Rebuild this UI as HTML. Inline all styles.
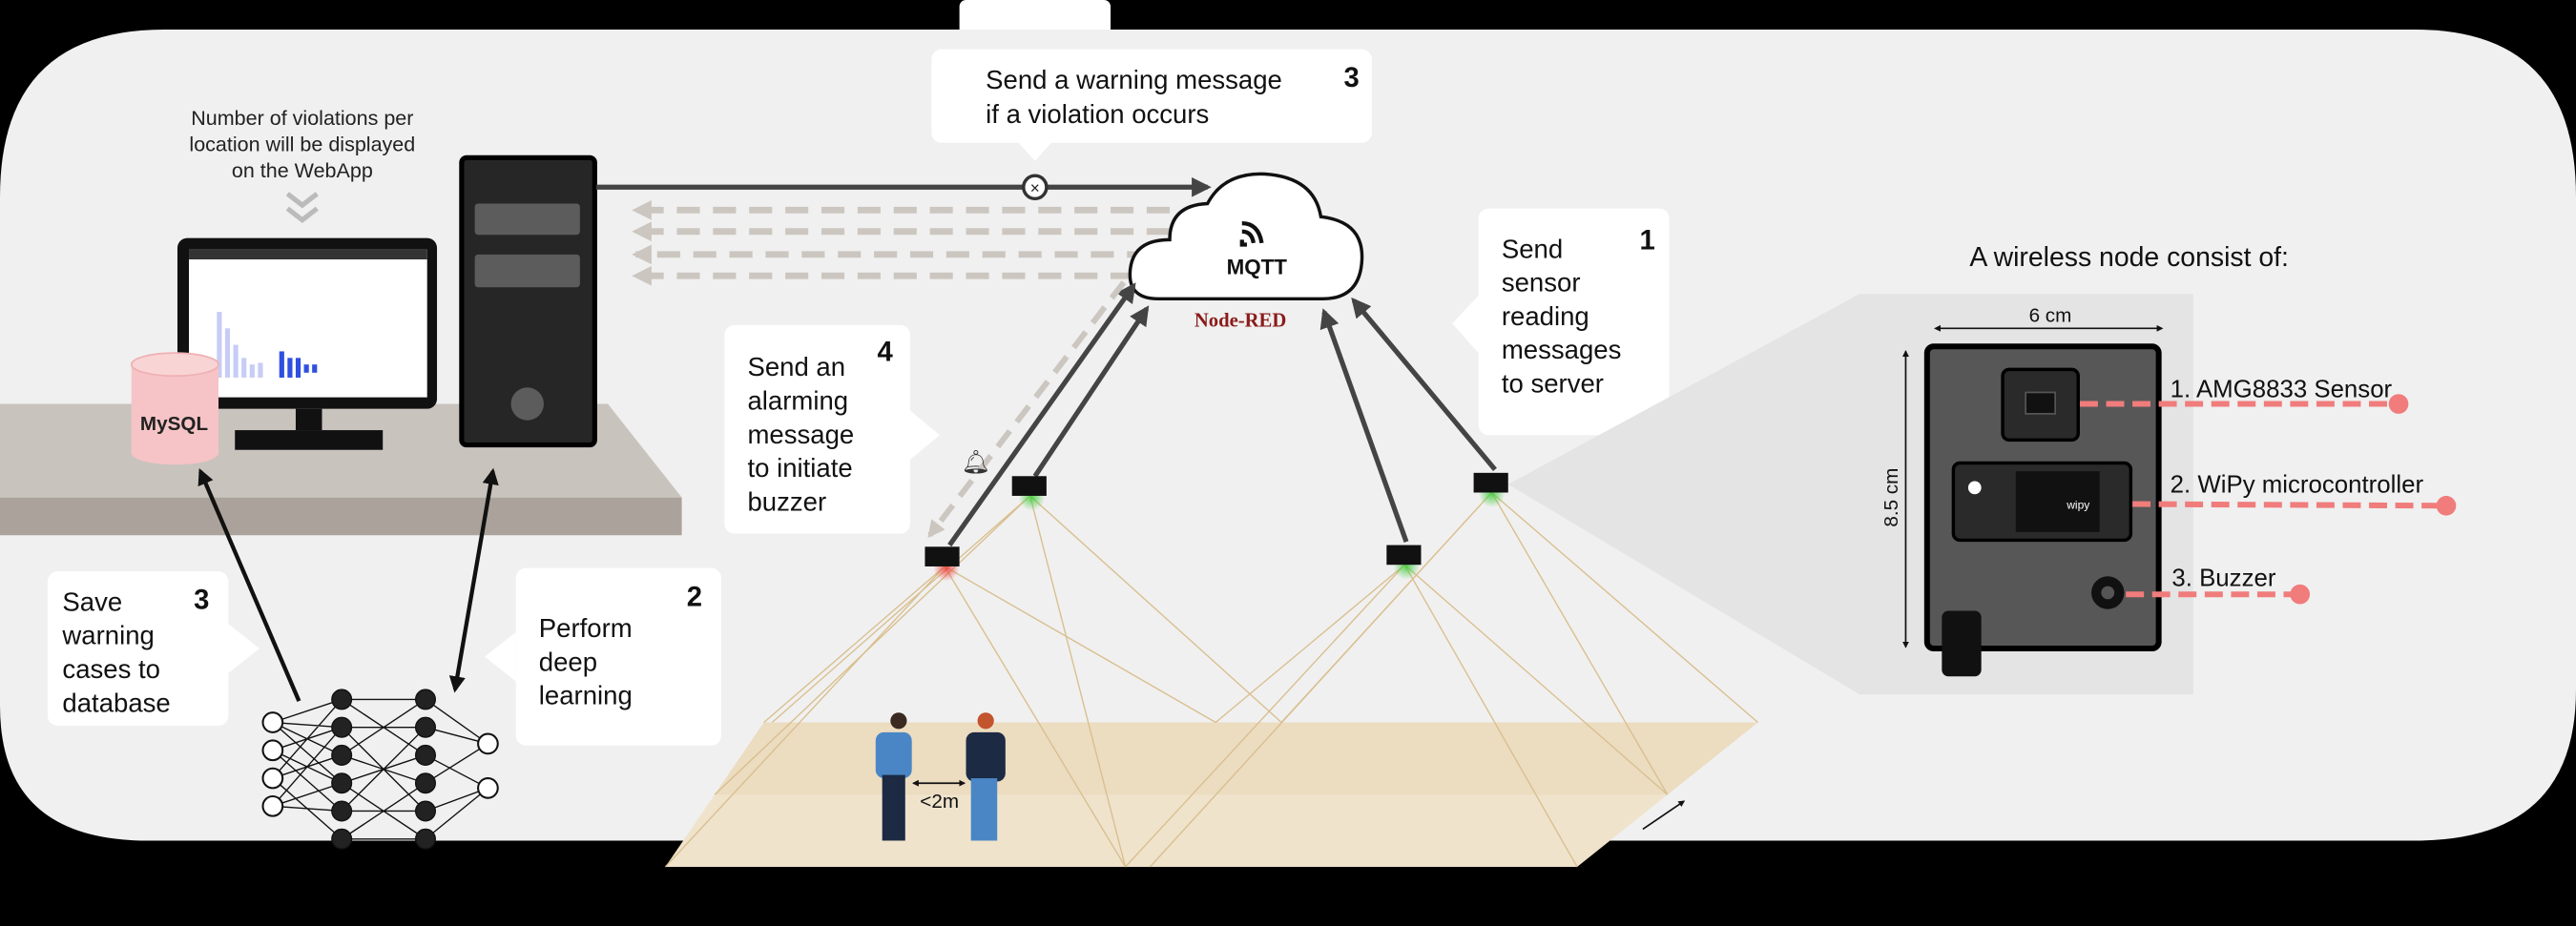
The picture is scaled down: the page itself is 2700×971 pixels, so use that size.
<!DOCTYPE html>
<html><head><meta charset="utf-8"><style>
html,body{margin:0;padding:0;background:#000;}
svg{display:block;font-family:"Liberation Sans",sans-serif;}
</style></head><body>
<svg width="2700" height="971" viewBox="0 0 1568 564" preserveAspectRatio="none">
<defs>
<marker id="ah" viewBox="0 0 10 10" refX="8" refY="5" markerWidth="4" markerHeight="4" orient="auto-start-reverse"><path d="M0,0L10,5L0,10z" fill="#444"/></marker>
<marker id="ahk" viewBox="0 0 10 10" refX="8" refY="5" markerWidth="4" markerHeight="4" orient="auto-start-reverse"><path d="M0,0L10,5L0,10z" fill="#111"/></marker>
<marker id="ahg" viewBox="0 0 10 10" refX="8" refY="5" markerWidth="3" markerHeight="3" orient="auto-start-reverse"><path d="M0,0L10,5L0,10z" fill="#ccc6c0"/></marker>
<radialGradient id="gg"><stop offset="0" stop-color="#3c3" stop-opacity=".8"/><stop offset="1" stop-color="#3c3" stop-opacity="0"/></radialGradient>
<radialGradient id="rg"><stop offset="0" stop-color="#e33" stop-opacity=".8"/><stop offset="1" stop-color="#e33" stop-opacity="0"/></radialGradient>
</defs>
<rect x="0" y="0" width="1568" height="564" fill="#000"/>
<rect x="584" y="0" width="92" height="24" rx="4" fill="#fff"/>
<path d="M100,18 H1470 Q1568,18 1568,120 V420 Q1568,512 1470,512 H90 Q0,512 0,430 V120 Q0,18 100,18Z" fill="#f0f0f0"/>

<!-- desk -->
<g>
<polygon points="0,246 370,246 415,303 0,303" fill="#c9c3be"/>
<rect x="0" y="303" width="415" height="23" fill="#aba39b"/>
</g>
<text x="184" y="76" font-size="12.5" text-anchor="middle" fill="#222"><tspan x="184">Number of violations per</tspan><tspan x="184" dy="16">location will be displayed</tspan><tspan x="184" dy="16">on the WebApp</tspan></text>
<path d="M175,118 L184,125 L193,118 M175,127 L184,134 L193,127" stroke="#bbb" stroke-width="3" fill="none"/>
<!-- monitor -->
<g>
<rect x="108" y="145" width="158" height="104" rx="6" fill="#111"/>
<rect x="115" y="152" width="145" height="90" fill="#fff"/>
<rect x="115" y="152" width="145" height="6" fill="#333"/>
<rect x="180" y="249" width="16" height="13" fill="#111"/>
<rect x="143" y="262" width="90" height="12" fill="#111"/>
<g fill="#c8ccf5"><rect x="132" y="190" width="3" height="40"/><rect x="137" y="200" width="3" height="30"/><rect x="142" y="210" width="3" height="20"/><rect x="147" y="218" width="3" height="12"/><rect x="152" y="222" width="3" height="8"/><rect x="157" y="221" width="3" height="9"/></g>
<g fill="#2e4fe0"><rect x="170" y="214" width="3" height="16"/><rect x="175" y="218" width="3" height="12"/><rect x="180" y="218" width="3" height="12"/><rect x="185" y="222" width="3" height="5"/><rect x="190" y="222" width="3" height="5"/></g>
</g>
<g>
<path d="M80,222 V276 A26.5,7 0 0 0 133,276 V222Z" fill="#f6c4c6"/>
<ellipse cx="106.5" cy="222" rx="26.5" ry="7" fill="#f9d4d5" stroke="#f0b0b3"/>
<text x="106" y="262" font-size="12" font-weight="bold" text-anchor="middle" fill="#222">MySQL</text>
</g>
<g>
<rect x="281" y="96" width="81" height="175" rx="3" fill="#262626" stroke="#000" stroke-width="3"/>
<rect x="289" y="124" width="64" height="19" rx="2" fill="#5c5c5c"/>
<rect x="289" y="155" width="64" height="20" rx="2" fill="#5c5c5c"/>
<circle cx="321" cy="246" r="10" fill="#5c5c5c"/>
</g>

<!-- top arrow & dashed -->
<line x1="363" y1="114" x2="735" y2="114" stroke="#444" stroke-width="3" marker-end="url(#ah)"/>
<circle cx="630" cy="114" r="7" fill="#fff" stroke="#333" stroke-width="2"/>
<text x="630" y="118" font-size="10" text-anchor="middle" fill="#222">×</text>
<g stroke="#ccc6c0" stroke-width="4" stroke-dasharray="14 8" fill="none">
<line x1="712" y1="128" x2="387" y2="128" marker-end="url(#ahg)"/>
<line x1="712" y1="141" x2="387" y2="141" marker-end="url(#ahg)"/>
<line x1="700" y1="155" x2="387" y2="155" marker-end="url(#ahg)"/>
<line x1="690" y1="168" x2="387" y2="168" marker-end="url(#ahg)"/>
</g>
<!-- bubble 3 top -->
<g>
<rect x="567" y="30" width="268" height="57" rx="6" fill="#fff"/>
<polygon points="620,87 640,87 630,98" fill="#fff"/>
<text x="600" y="54" font-size="16" fill="#111"><tspan x="600">Send a warning message</tspan><tspan x="600" dy="21">if a violation occurs</tspan></text>
<text x="818" y="53" font-size="17" font-weight="bold" fill="#111">3</text>
</g>
<!-- cloud -->
<g>
<path d="M705,182 Q686,182 688,164 Q690,146 712,146 Q712,125 735,124 Q745,105 770,106 Q800,108 804,132 Q830,135 829,158 Q828,182 805,182Z" fill="#fff" stroke="#111" stroke-width="2"/>
<text x="765" y="167" font-size="13" font-weight="bold" text-anchor="middle" fill="#111">MQTT</text>
<path d="M756,136 q10,0 12,12 M756,141 q6,0 7,7 M756,146 v3 h3" stroke="#111" stroke-width="2.5" fill="none"/>
<text x="755" y="199" font-size="12" font-weight="bold" font-family="Liberation Serif,serif" text-anchor="middle" fill="#8b1a1a">Node-RED</text>
</g>
<!-- floor -->
<g>
<polygon points="465,440 1070,440 960,528 405,528" fill="#efe3cc"/>
<polygon points="465,440 1070,440 1015,484 435,484" fill="#ecdcc0"/>
<line x1="1000" y1="505" x2="1025" y2="488" stroke="#111" marker-end="url(#ahk)"/>
</g>
<g stroke="#d9bf8f" stroke-width="0.8" fill="none">
<path d="M575,345 L405,528 M575,345 L465,440 M575,345 L685,528 M575,345 L740,440"/>
<path d="M627,302 L435,484 M627,302 L470,440 M627,302 L685,528 M627,302 L780,440"/>
<path d="M855,344 L685,528 M855,344 L740,440 M855,344 L960,528 M855,344 L1015,484"/>
<path d="M908,300 L700,528 M908,300 L780,440 M908,300 L1015,484 M908,300 L1070,440"/>
</g>
<!-- sensor links -->
<g stroke="#444" stroke-width="3" fill="none">
<line x1="578" y1="332" x2="690" y2="174" marker-end="url(#ah)"/>
<line x1="630" y1="290" x2="698" y2="188" marker-end="url(#ah)"/>
<line x1="856" y1="330" x2="806" y2="190" marker-end="url(#ah)"/>
<line x1="910" y1="286" x2="824" y2="183" marker-end="url(#ah)"/>
</g>
<line x1="684" y1="172" x2="566" y2="326" stroke="#ccc6c0" stroke-width="3.5" stroke-dasharray="12 7" marker-end="url(#ahg)"/>
<text x="585" y="286" font-size="14" fill="#333">🔔︎</text>
<g>
<circle cx="576" cy="346" r="8" fill="url(#rg)"/><rect x="563" y="333" width="21" height="12" fill="#111"/>
<circle cx="628" cy="303" r="8" fill="url(#gg)"/><rect x="616" y="290" width="21" height="12" fill="#111"/>
<circle cx="856" cy="345" r="8" fill="url(#gg)"/><rect x="844" y="332" width="21" height="12" fill="#111"/>
<circle cx="908" cy="301" r="8" fill="url(#gg)"/><rect x="897" y="288" width="21" height="12" fill="#111"/>
</g>
<!-- people -->
<g>
<circle cx="547" cy="439" r="5" fill="#3a2a20"/><rect x="533" y="446" width="22" height="28" rx="5" fill="#4a86c5"/><rect x="537" y="472" width="14" height="40" fill="#1c2a44"/>
<circle cx="600" cy="439" r="5" fill="#c2542e"/><rect x="588" y="446" width="24" height="30" rx="5" fill="#1c2a44"/><rect x="591" y="474" width="16" height="38" fill="#4a86c5"/>
<line x1="556" y1="477" x2="587" y2="477" stroke="#111" marker-end="url(#ahk)" marker-start="url(#ahk)"/>
<text x="560" y="492" font-size="12" fill="#111">&lt;2m</text>
</g>
<!-- other bubbles -->
<g>
<rect x="441" y="198" width="113" height="127" rx="6" fill="#fff"/>
<polygon points="554,250 554,280 572,265" fill="#fff"/>
<text x="455" y="229" font-size="16" fill="#111"><tspan x="455">Send an</tspan><tspan x="455" dy="20.5">alarming</tspan><tspan x="455" dy="20.5">message</tspan><tspan x="455" dy="20.5">to initiate</tspan><tspan x="455" dy="20.5">buzzer</tspan></text>
<text x="534" y="220" font-size="17" font-weight="bold" fill="#111">4</text>
</g>
<g>
<rect x="900" y="127" width="116" height="138" rx="6" fill="#fff"/>
<polygon points="900,180 900,215 884,197" fill="#fff"/>
<text x="914" y="157" font-size="16" fill="#111"><tspan x="914">Send</tspan><tspan x="914" dy="20.5">sensor</tspan><tspan x="914" dy="20.5">reading</tspan><tspan x="914" dy="20.5">messages</tspan><tspan x="914" dy="20.5">to server</tspan></text>
<text x="998" y="152" font-size="17" font-weight="bold" fill="#111">1</text>
</g>
<g>
<rect x="29" y="348" width="110" height="94" rx="6" fill="#fff"/>
<polygon points="139,380 139,410 158,395" fill="#fff"/>
<text x="38" y="372" font-size="16" fill="#111"><tspan x="38">Save</tspan><tspan x="38" dy="20.5">warning</tspan><tspan x="38" dy="20.5">cases to</tspan><tspan x="38" dy="20.5">database</tspan></text>
<text x="118" y="371" font-size="17" font-weight="bold" fill="#111">3</text>
</g>
<g>
<rect x="314" y="346" width="125" height="108" rx="6" fill="#fff"/>
<polygon points="314,385 314,415 295,400" fill="#fff"/>
<text x="328" y="388" font-size="16" fill="#111"><tspan x="328">Perform</tspan><tspan x="328" dy="20.5">deep</tspan><tspan x="328" dy="20.5">learning</tspan></text>
<text x="418" y="369" font-size="17" font-weight="bold" fill="#111">2</text>
</g>
<!-- NN -->
<g stroke="#111" stroke-width="0.8">
<g id="nnlines">
<path d="M166,440 L208,426 M166,440 L208,443 M166,440 L208,460 M166,440 L208,477 M166,457 L208,443 M166,457 L208,477 M166,457 L208,494 M166,474 L208,426 M166,474 L208,460 M166,474 L208,511 M166,491 L208,477 M166,491 L208,494 M166,491 L208,443 M208,426 L259,426 M208,426 L259,460 M208,443 L259,443 M208,443 L259,494 M208,460 L259,426 M208,460 L259,477 M208,477 L259,460 M208,477 L259,511 M208,494 L259,443 M208,494 L259,494 M208,511 L259,477 M208,511 L259,511 M259,426 L297,453 M259,443 L297,453 M259,460 L297,480 M259,477 L297,453 M259,494 L297,480 M259,511 L297,480"/>
</g>
<g fill="#fff" stroke-width="1.2"><circle cx="166" cy="440" r="6"/><circle cx="166" cy="457" r="6"/><circle cx="166" cy="474" r="6"/><circle cx="166" cy="491" r="6"/><circle cx="297" cy="453" r="6"/><circle cx="297" cy="480" r="6"/></g>
<g fill="#222"><circle cx="208" cy="426" r="6"/><circle cx="208" cy="443" r="6"/><circle cx="208" cy="460" r="6"/><circle cx="208" cy="477" r="6"/><circle cx="208" cy="494" r="6"/><circle cx="208" cy="511" r="6"/><circle cx="259" cy="426" r="6"/><circle cx="259" cy="443" r="6"/><circle cx="259" cy="460" r="6"/><circle cx="259" cy="477" r="6"/><circle cx="259" cy="494" r="6"/><circle cx="259" cy="511" r="6"/></g>
</g>
<line x1="182" y1="427" x2="122" y2="287" stroke="#111" stroke-width="2.5" marker-end="url(#ahk)"/>
<line x1="277" y1="420" x2="300" y2="287" stroke="#111" stroke-width="2.5" marker-end="url(#ahk)" marker-start="url(#ahk)"/>

<!-- right panel -->
<polygon points="918,295 1132,179 1335,179 1335,423 1132,423" fill="#e4e4e4"/>
<text x="1296" y="162" font-size="16.5" text-anchor="middle" fill="#111">A wireless node consist of:</text>
<line x1="1178" y1="200" x2="1316" y2="200" stroke="#111" marker-end="url(#ahk)" marker-start="url(#ahk)"/>
<text x="1248" y="196" font-size="12" text-anchor="middle" fill="#111">6 cm</text>
<line x1="1160" y1="214" x2="1160" y2="394" stroke="#111" marker-end="url(#ahk)" marker-start="url(#ahk)"/>
<text x="0" y="0" font-size="12" text-anchor="middle" fill="#111" transform="translate(1155,303) rotate(-90)">8.5 cm</text>
<g>
<rect x="1173" y="211" width="141" height="184" rx="4" fill="#575757" stroke="#000" stroke-width="3.5"/>
<rect x="1219" y="225" width="46" height="43" rx="4" fill="#2a2a2a" stroke="#000" stroke-width="2"/>
<rect x="1233" y="239" width="18" height="13" fill="#111" stroke="#555"/>
<rect x="1189" y="282" width="108" height="47" rx="4" fill="#2a2a2a" stroke="#000" stroke-width="2"/>
<rect x="1227" y="287" width="51" height="37" fill="#111"/>
<text x="1258" y="310" font-size="7" fill="#fff">wipy</text>
<circle cx="1202" cy="297" r="4" fill="#fff"/>
<circle cx="1283" cy="361" r="10" fill="#111"/><circle cx="1283" cy="361" r="4" fill="#555"/>
<rect x="1182" y="372" width="24" height="40" rx="4" fill="#111"/>
</g>
<g>
<text x="1321" y="242" font-size="15" fill="#111">1. AMG8833 Sensor</text>
<line x1="1266" y1="246" x2="1458" y2="246" stroke="#f07c7c" stroke-width="3.5" stroke-dasharray="11 5"/><circle cx="1460" cy="246" r="6" fill="#f07c7c"/>
<text x="1321" y="300" font-size="15" fill="#111">2. WiPy microcontroller</text>
<line x1="1298" y1="307" x2="1486" y2="308" stroke="#f07c7c" stroke-width="3.5" stroke-dasharray="11 5"/><circle cx="1489" cy="308" r="6" fill="#f07c7c"/>
<text x="1322" y="357" font-size="15" fill="#111">3. Buzzer</text>
<line x1="1294" y1="362" x2="1398" y2="362" stroke="#f07c7c" stroke-width="3.5" stroke-dasharray="11 5"/><circle cx="1400" cy="362" r="6" fill="#f07c7c"/>
</g>
</svg>
</body></html>
